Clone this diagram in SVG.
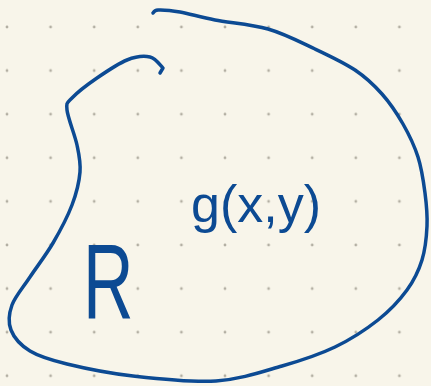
<svg xmlns="http://www.w3.org/2000/svg" width="431" height="386" viewBox="0 0 431 386">
  <defs>
    <pattern id="dots" x="7" y="27" width="43.6" height="43.6" patternUnits="userSpaceOnUse">
      <circle cx="0" cy="0" r="1.4" fill="#b3afa3"/>
      <circle cx="43.6" cy="0" r="1.4" fill="#b3afa3"/>
      <circle cx="0" cy="43.6" r="1.4" fill="#b3afa3"/>
      <circle cx="43.6" cy="43.6" r="1.4" fill="#b3afa3"/>
    </pattern>
    <style>
      .ink { fill: none; stroke: #0c4a93; stroke-width: 3.5; stroke-linecap: round; stroke-linejoin: round; }
      .hand { fill: #0c4a93; font-family: "Liberation Sans", "DejaVu Sans", sans-serif; }
    </style>
  </defs>
  <rect width="431" height="386" fill="#f8f5ea"/>
  <rect width="431" height="386" fill="url(#dots)"/>
  <g id="region">
    <path class="ink" d="M160,73 L163,68 C160.8,66.2 156,58.3 150,57 C144,55.7 135.8,56.5 127,60 C118.2,63.5 106.2,71.7 97,78 C87.8,84.3 77,92.7 72,98 C67,103.3 66.2,102.2 67,110 C67.8,117.8 74.8,134.7 77,145 C79.2,155.3 80.8,162 80,172 C79.2,182 76.5,193.2 72,205 C67.5,216.8 60,231 53,243 C46,255 36.8,266.7 30,277 C23.2,287.3 15.2,296.2 12,305 C8.8,313.8 8,322.3 11,330 C14,337.7 20.7,345.3 30,351 C39.3,356.7 49.8,359.8 67,364 C84.2,368.2 108.2,373.2 133,376 C157.8,378.8 191.2,382.7 216,381 C240.8,379.3 262.2,371.7 282,366 C301.8,360.3 319,354.7 335,347 C351,339.3 366,329.5 378,320 C390,310.5 399.7,300 407,290 C414.3,280 418.7,270.7 422,260 C425.3,249.3 426.5,237.2 427,226 C427.5,214.8 426.5,204.5 425,193 C423.5,181.5 421.7,168.5 418,157 C414.3,145.5 409,134.5 403,124 C397,113.5 390,103 382,94 C374,85 366.2,77.5 355,70 C343.8,62.5 329.5,55.8 315,49 C300.5,42.2 284.7,33.8 268,29 C251.3,24.2 229.7,22.8 215,20 C200.3,17.2 189.5,13.7 180,12 C170.5,10.3 162.5,9.8 158,10 C153.5,10.2 153.8,12.5 153,13"/>
  </g>
  <g id="label-g">
    <text class="hand" x="191" y="222" font-size="52">g(x,y)</text>
  </g>
  <g id="label-R">
    <text class="hand" transform="translate(83,318) scale(0.66,1)" x="0" y="0" font-size="106">R</text>
  </g>
</svg>
